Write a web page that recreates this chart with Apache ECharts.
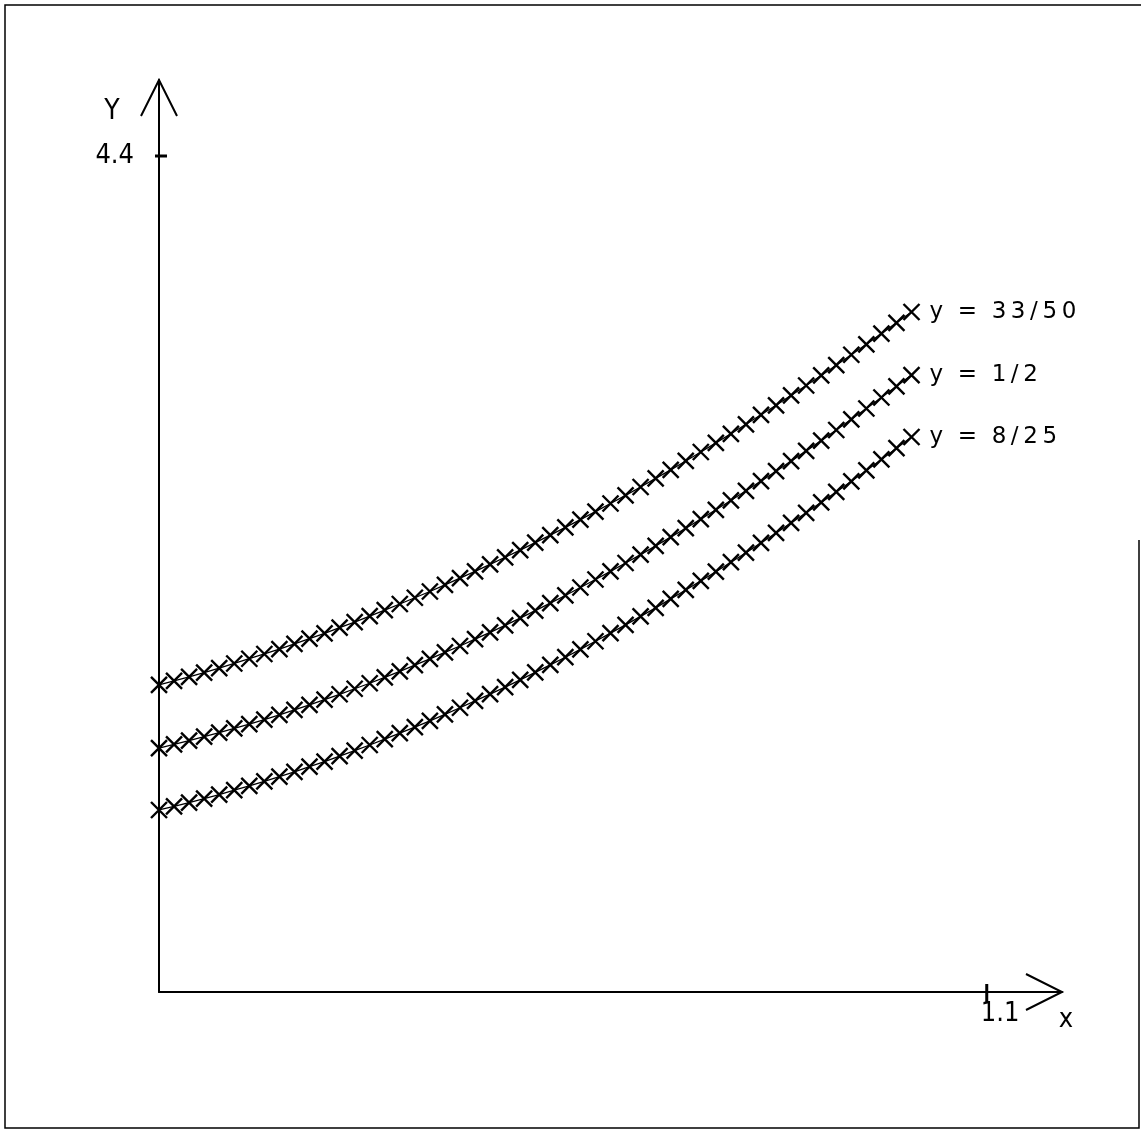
<!DOCTYPE html>
<html>
<head>
<meta charset="utf-8">
<script src="https://cdn.jsdelivr.net/npm/echarts@6/dist/echarts.min.js"></script>
<style>
  html, body { margin: 0; padding: 0; background: #fff; }
  #chart { width: 1141px; height: 1142px; }
</style>
</head>
<body>
<div id="chart"></div>
<script>
// Sample positions along x
const xValues = [
  0, 0.02, 0.04, 0.06, 0.08, 0.10, 0.12, 0.14, 0.16, 0.18,
  0.20, 0.22, 0.24, 0.26, 0.28, 0.30, 0.32, 0.34, 0.36, 0.38,
  0.40, 0.42, 0.44, 0.46, 0.48, 0.50, 0.52, 0.54, 0.56, 0.58,
  0.60, 0.62, 0.64, 0.66, 0.68, 0.70, 0.72, 0.74, 0.76, 0.78,
  0.80, 0.82, 0.84, 0.86, 0.88, 0.90, 0.92, 0.94, 0.96, 0.98, 1.00
];

// Curve for y = 33/50
const curveY3350 = [
  1.616, 1.637, 1.659, 1.681, 1.705, 1.729, 1.754, 1.779, 1.805, 1.832,
  1.860, 1.888, 1.918, 1.947, 1.978, 2.010, 2.042, 2.075, 2.108, 2.143,
  2.178, 2.214, 2.251, 2.288, 2.326, 2.365, 2.405, 2.445, 2.486, 2.528,
  2.571, 2.614, 2.658, 2.703, 2.748, 2.795, 2.842, 2.890, 2.938, 2.988,
  3.038, 3.088, 3.140, 3.192, 3.245, 3.299, 3.354, 3.409, 3.465, 3.522, 3.579
];

// Curve for y = 1/2
const curveY12 = [
  1.284, 1.303, 1.323, 1.344, 1.365, 1.387, 1.410, 1.434, 1.459, 1.485,
  1.511, 1.539, 1.567, 1.596, 1.625, 1.656, 1.687, 1.720, 1.753, 1.787,
  1.821, 1.857, 1.893, 1.930, 1.968, 2.007, 2.047, 2.087, 2.129, 2.171,
  2.214, 2.258, 2.302, 2.348, 2.394, 2.441, 2.489, 2.538, 2.587, 2.638,
  2.689, 2.741, 2.794, 2.848, 2.902, 2.958, 3.014, 3.071, 3.129, 3.188, 3.247
];

// Curve for y = 8/25
const curveY825 = [
  0.958, 0.977, 0.997, 1.018, 1.039, 1.062, 1.085, 1.109, 1.134, 1.159,
  1.186, 1.213, 1.241, 1.270, 1.300, 1.331, 1.362, 1.394, 1.427, 1.461,
  1.496, 1.532, 1.568, 1.605, 1.643, 1.682, 1.722, 1.762, 1.803, 1.846,
  1.889, 1.932, 1.977, 2.022, 2.069, 2.116, 2.164, 2.212, 2.262, 2.312,
  2.364, 2.416, 2.469, 2.522, 2.577, 2.632, 2.688, 2.745, 2.803, 2.862, 2.921
];

const curveLabels = ['y  =  33/50', 'y  =  1/2', 'y  =  8/25'];
const xTicks = [1.1];
const yTicks = [4.4];
const xAxisName = 'x';
const yAxisName = 'Y';

const X_MAX = 1.2;
const Y_MAX = 4.8;
const INK = '#000';
const AXIS_FONT = '"Liberation Sans Narrow", "DejaVu Sans Condensed", sans-serif';
const LABEL_FONT = '"DejaVu Sans", sans-serif';

const crossSymbol = 'path://M0,0L10,10M0,10L10,0';

function pairs(values) {
  return values.map((v, i) => [xValues[i], v]);
}

function near(list, v) {
  return list.some(t => Math.abs(t - v) < 1e-6);
}

// Plotter-style lettering: a thin space between the digits of a fraction
function spacedFraction(text) {
  return text.replace(/([\d\/])(?=[\d\/])/g, '$1\u2009');
}

function curveSeries(values, label) {
  return {
    type: 'line',
    data: pairs(values),
    symbol: crossSymbol,
    symbolSize: 16,
    showSymbol: true,
    showAllSymbol: true,
    lineStyle: { color: INK, width: 1.3 },
    itemStyle: { color: 'rgba(0,0,0,0)', borderColor: INK, borderWidth: 2.4 },
    emphasis: { disabled: true },
    endLabel: {
      show: true,
      formatter: spacedFraction(label),
      color: INK,
      fontFamily: LABEL_FONT,
      fontSize: 23,
      distance: 18
    },
    z: 3
  };
}

const chart = echarts.init(document.getElementById('chart'), null, { renderer: 'canvas' });

chart.setOption({
  animation: false,
  backgroundColor: '#fff',
  grid: { left: 159, top: 80, width: 903, height: 912, containLabel: false },
  xAxis: {
    type: 'value',
    min: 0,
    max: X_MAX,
    interval: 1.1,
    axisLine: { show: true, onZero: false, lineStyle: { color: INK, width: 2 } },
    axisTick: { show: false },
    splitLine: { show: false },
    axisLabel: {
      showMinLabel: true,
      showMaxLabel: false,
      formatter: v => near(xTicks, v) ? String(xTicks.find(t => Math.abs(t - v) < 1e-6)) : '',
      color: INK,
      fontFamily: AXIS_FONT,
      fontSize: 27,
      align: 'left',
      margin: 8,
      padding: [0, 0, 0, -6]
    }
  },
  yAxis: {
    type: 'value',
    min: 0,
    max: Y_MAX,
    interval: 1.1,
    axisLine: { show: true, onZero: false, lineStyle: { color: INK, width: 2 } },
    axisTick: { show: false },
    splitLine: { show: false },
    axisLabel: {
      showMaxLabel: false,
      formatter: v => near(yTicks, v) ? String(yTicks.find(t => Math.abs(t - v) < 1e-6)) : '',
      color: INK,
      fontFamily: AXIS_FONT,
      fontSize: 27,
      margin: 25,
      padding: [8, 0, 0, 0]
    }
  },
  series: [
    curveSeries(curveY3350, curveLabels[0]),
    curveSeries(curveY12, curveLabels[1]),
    curveSeries(curveY825, curveLabels[2])
  ]
});

// Axis arrows, crossing tick marks, axis names and the page frame
const px = p => chart.convertToPixel({ gridIndex: 0 }, p);
const origin = px([0, 0]);
const xEnd = px([X_MAX, 0]);
const yEnd = px([0, Y_MAX]);
const graphics = [];

graphics.push({
  type: 'polyline',
  shape: { points: [[xEnd[0] - 36, xEnd[1] - 18], [xEnd[0], xEnd[1]], [xEnd[0] - 36, xEnd[1] + 18]] },
  style: { stroke: INK, lineWidth: 2, fill: null }
});
graphics.push({
  type: 'polyline',
  shape: { points: [[yEnd[0] - 18, yEnd[1] + 36], [yEnd[0], yEnd[1]], [yEnd[0] + 18, yEnd[1] + 36]] },
  style: { stroke: INK, lineWidth: 2, fill: null }
});

xTicks.forEach(t => {
  const p = px([t, 0]);
  graphics.push({
    type: 'line',
    shape: { x1: p[0], y1: p[1] - 8, x2: p[0], y2: p[1] + 10 },
    style: { stroke: INK, lineWidth: 3 }
  });
});
yTicks.forEach(t => {
  const p = px([0, t]);
  graphics.push({
    type: 'line',
    shape: { x1: p[0] - 4, y1: p[1], x2: p[0] + 8, y2: p[1] },
    style: { stroke: INK, lineWidth: 3 }
  });
});

graphics.push({
  type: 'text',
  x: origin[0] - 47,
  y: yEnd[1] + 32,
  style: { text: yAxisName, fill: INK, font: '28px ' + AXIS_FONT, textAlign: 'center', textVerticalAlign: 'middle' }
});
graphics.push({
  type: 'text',
  x: xEnd[0] + 4,
  y: origin[1] + 28,
  style: { text: xAxisName, fill: INK, font: '27px ' + AXIS_FONT, textAlign: 'center', textVerticalAlign: 'middle' }
});

graphics.push({
  type: 'polyline',
  shape: { points: [[1139, 540], [1139, 1128], [5, 1128], [5, 5], [1141, 5]] },
  style: { stroke: INK, lineWidth: 1.5, fill: null }
});

chart.setOption({ graphic: graphics });
</script>
</body>
</html>
